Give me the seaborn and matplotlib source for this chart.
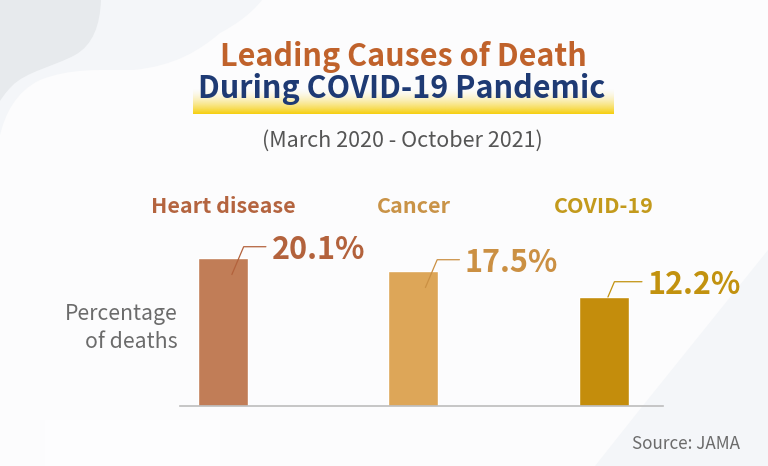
import numpy as np
import pandas as pd
import matplotlib
matplotlib.use("Agg")
import matplotlib.pyplot as plt
import matplotlib.transforms as mtransforms
from matplotlib.path import Path
from matplotlib.patches import PathPatch, Rectangle
import seaborn as sns

# ---------------- data ----------------
causes = ["Heart disease", "Cancer", "COVID-19"]
share_pct = [20.1, 17.5, 12.2]
value_labels = ["20.1%", "17.5%", "12.2%"]

title_line1 = "Leading Causes of Death"
title_line2 = "During COVID-19 Pandemic"
subtitle = "(March 2020 - October 2021)"
axis_label_lines = ["Percentage", "of deaths"]
source_note = "Source: JAMA"

# ---------------- styles ----------------
bar_colors = ["#C17D57", "#DDA658", "#C48D0C"]
value_colors = ["#B3623C", "#CB9043", "#C2920F"]
cat_colors = ["#B4643F", "#C99347", "#C39A1C"]
leader_dx_px = [9, 12, 4]
leader_drop_px = [17, 17, 0]
leader_rise_pt = [20, 20, 11]
leader_run_pt = 24.5
label_gap_pt = 4.0

W, H = 768, 466
sns.set_theme(style="white")
plt.rcParams["font.family"] = ["Noto Sans CJK JP", "DejaVu Sans"]

fig = plt.figure(figsize=(W / 100, H / 100), dpi=100, facecolor="#FCFCFD")


def fx(px):
    return px / W


def fy(py):
    return 1 - py / H


def blob(points, codes, color, z):
    verts = [(fx(x), fy(y)) for x, y in points]
    p = PathPatch(Path(verts, codes), facecolor=color, edgecolor="none",
                  transform=fig.transFigure, zorder=z)
    fig.add_artist(p)


M, L, C, Z = Path.MOVETO, Path.LINETO, Path.CURVE4, Path.CLOSEPOLY
# light decorative blob top-left
blob([(0, 0), (262, 0),
      (250, 15), (235, 25), (220, 33),
      (200, 50), (175, 66), (133, 70),
      (100, 70), (70, 68), (40, 80),
      (15, 92), (5, 115), (0, 135),
      (0, 0)],
     [M, L, C, C, C, C, C, C, C, C, C, C, C, C, Z], "#F4F6F9", -10)
# darker blob top-left
blob([(0, 0), (101, 0),
      (100, 25), (93, 45), (75, 55),
      (55, 66), (25, 72), (12, 86),
      (5, 93), (2, 98), (0, 101),
      (0, 0)],
     [M, L, C, C, C, C, C, C, C, C, C, Z], "#E7EAED", -9)
# light area bottom-right
blob([(768, 250), (720, 310), (655, 390), (595, 466), (768, 466), (768, 250)],
     [M, C, C, C, L, Z], "#F4F6F9", -10)
# faint white patch bottom-left
fig.add_artist(Rectangle((fx(45), 0), fx(175), 46 / H, facecolor="#FFFFFF",
                         edgecolor="none", alpha=0.6, transform=fig.transFigure,
                         zorder=-8))

# yellow highlight under second title line
hl = fig.add_axes([fx(193), fy(114), fx(421), 26 / H], zorder=0.5)
t = np.linspace(0, 1, 60)[:, None]
grad = np.zeros((60, 2, 4))
grad[..., 0] = 0xF6 / 255
grad[..., 1] = 0xCF / 255
grad[..., 2] = 0x0E / 255
grad[..., 3] = np.clip(t ** 1.6, 0, 1)
hl.imshow(grad, aspect="auto", extent=[0, 1, 0, 1], interpolation="bilinear")
hl.axis("off")

# ---------------- main chart ----------------
ax = fig.add_axes([fx(180), fy(406), fx(663 - 180), (406 - 190) / H], zorder=1)
ax.set_facecolor("none")

offset = 9.6


def fwd(y):
    y = np.asarray(y, dtype=float)
    return np.where(y > 0, y + offset, y)


def inv(v):
    v = np.asarray(v, dtype=float)
    return np.where(v > offset, v - offset, np.where(v > 0, 0.0, v))


ax.set_yscale("function", functions=(fwd, inv))

df = pd.DataFrame({"cause": causes, "pct": share_pct})
sns.barplot(data=df, x="cause", y="pct", hue="cause", palette=bar_colors,
            width=0.2625, saturation=1, legend=False, ax=ax)

ax.set_xlim(-0.225, 2.31)
ax.set_ylim(0, 43.2 - offset)
ax.set_xticks([])
ax.set_yticks([])
ax.set_xlabel("")
ax.set_ylabel("")
for s in ["top", "right", "left"]:
    ax.spines[s].set_visible(False)
ax.spines["bottom"].set_color("#BDBDBD")
ax.spines["bottom"].set_linewidth(1.2)

blend = mtransforms.blended_transform_factory(ax.transData, ax.transAxes)
for i, (name, v, lab) in enumerate(zip(causes, share_pct, value_labels)):
    ax.text(i, (406 - 213) / 216, name, transform=blend, ha="center",
            va="baseline", fontsize=15.5, fontweight="bold", color=cat_colors[i])
    start_tr = mtransforms.offset_copy(ax.transData, fig=fig, x=leader_dx_px[i],
                                       y=-leader_drop_px[i], units="dots")
    ax.annotate("", xy=(i, v), xycoords=start_tr,
                xytext=(leader_run_pt, leader_rise_pt[i]), textcoords="offset points",
                arrowprops=dict(arrowstyle="-", color=value_colors[i], lw=0.9,
                                shrinkA=0, shrinkB=0,
                                connectionstyle="angle,angleA=0,angleB=67,rad=0"),
                annotation_clip=False)
    ax.annotate(lab, xy=(i, v), xycoords=start_tr,
                xytext=(leader_run_pt + label_gap_pt, leader_rise_pt[i]),
                textcoords="offset points", ha="left", va="center_baseline",
                fontsize=22, fontweight="bold", color=value_colors[i],
                annotation_clip=False)

# ---------------- texts ----------------
fig.text(fx(403), fy(66), title_line1, ha="center", va="baseline",
         fontsize=22, fontweight="bold", color="#C0622B")
fig.text(fx(402), fy(98), title_line2, ha="center", va="baseline",
         fontsize=22, fontweight="bold", color="#1E3A74")
fig.text(fx(402), fy(147), subtitle, ha="center", va="baseline",
         fontsize=15.5, color="#555555")
fig.text(fx(178), fy(320), axis_label_lines[0], ha="right", va="baseline",
         fontsize=15.3, color="#6B6B6B")
fig.text(fx(178), fy(348), axis_label_lines[1], ha="right", va="baseline",
         fontsize=15.3, color="#6B6B6B")
fig.text(fx(740), fy(449), source_note, ha="right", va="baseline",
         fontsize=12.3, color="#6B6B6B")

fig.savefig("out.png", dpi=100, facecolor=fig.get_facecolor())
